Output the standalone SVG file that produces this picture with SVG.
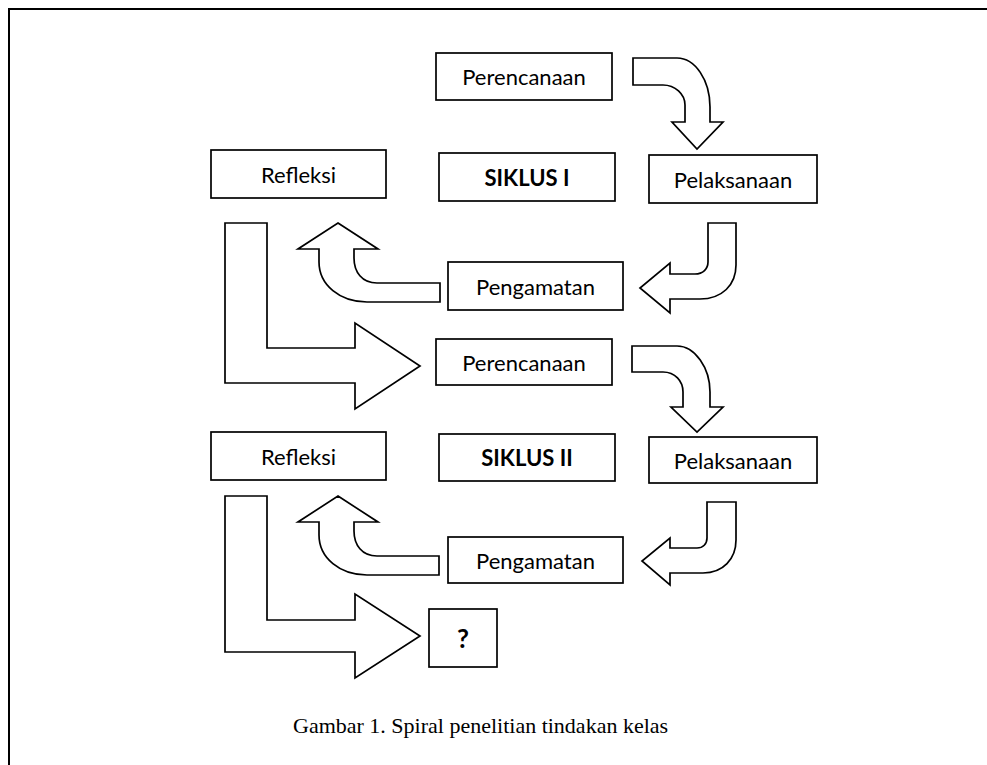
<svg xmlns="http://www.w3.org/2000/svg" width="987" height="765" viewBox="0 0 987 765">
<style>
.box{fill:#fff;stroke:#000;stroke-width:1.7}
.arr{fill:#fff;stroke:#000;stroke-width:1.7;stroke-linejoin:miter}
.lbl{font-family:Lato,"Open Sans","Liberation Sans",sans-serif;font-size:22px;fill:#000;text-anchor:middle;dominant-baseline:central}
.b{font-weight:bold}
.cap{font-family:"Liberation Serif","Times New Roman",serif;font-size:22px;fill:#000}
</style>
<rect width="987" height="765" fill="#fff"/>
<path d="M9,770 V9 H990" fill="none" stroke="#000" stroke-width="2"/>
<g id="connectors">
<path class="arr" d="M633,58 H677 C695,58 710,80 710,107 V122 H723 L697,149 L672,122 H685 V105 C685,94 675,85 663,85 H633 Z"/>
<path class="arr" d="M708,223 H736 V265 C736,285 722,299 700,299 H670 V313 L640,288 L670,263 V274 H695 C703,274 708,269 708,262 Z"/>
<path class="arr" d="M338,223 L378,249 H354 V258 C354,272 362,283 377,283 H440 V302 H367 C340,302 319,285 319,262 V249 H298 Z"/>
<path class="arr" d="M225,223 H267 V348 H355 V323 L420,366 L355,409 V383 H225 Z"/>
<path class="arr" d="M632,346 H677 C695,346 710,368 710,392 V407 H723 L697,432 L671,407 H683 V392 C683,381 675,372 663,372 H632 Z"/>
<path class="arr" d="M707,502 H736 V540 C736,559 723,573 703,573 H670 V585 L642,561 L670,538 V548 H697 C703,548 707,544 707,538 Z"/>
<path class="arr" d="M338,496 L378,522 H354 V531 C354,545 362,556 377,556 H439 V575 H367 C340,575 319,558 319,535 V522 H298 Z"/>
<path class="arr" d="M225,496 H267 V620 H355 V594 L420,636 L355,678 V652 H225 Z"/>
</g>
<g id="perencanaan1"><rect class="box" x="436" y="53" width="176" height="47"/><text class="lbl" x="524" y="76.5">Perencanaan</text></g>
<g id="siklus1"><rect class="box" x="439" y="153" width="176" height="48"/><text class="lbl b" x="527" y="177">SIKLUS I</text></g>
<g id="refleksi1"><rect class="box" x="211" y="150" width="175" height="48"/><text class="lbl" x="298.5" y="174">Refleksi</text></g>
<g id="pelaksanaan1"><rect class="box" x="649" y="155" width="168" height="48"/><text class="lbl" x="733" y="179">Pelaksanaan</text></g>
<g id="pengamatan1"><rect class="box" x="448" y="262" width="175" height="48"/><text class="lbl" x="535.5" y="286">Pengamatan</text></g>
<g id="perencanaan2"><rect class="box" x="436" y="339" width="176" height="46"/><text class="lbl" x="524" y="362">Perencanaan</text></g>
<g id="refleksi2"><rect class="box" x="211" y="432" width="175" height="48"/><text class="lbl" x="298.5" y="456">Refleksi</text></g>
<g id="siklus2"><rect class="box" x="439" y="434" width="176" height="47"/><text class="lbl b" x="527" y="457.5">SIKLUS II</text></g>
<g id="pelaksanaan2"><rect class="box" x="649" y="437" width="168" height="46"/><text class="lbl" x="733" y="460">Pelaksanaan</text></g>
<g id="pengamatan2"><rect class="box" x="448" y="537" width="175" height="46"/><text class="lbl" x="535.5" y="560">Pengamatan</text></g>
<g id="question"><rect class="box" x="429" y="609" width="68" height="58"/><text class="lbl b" x="463" y="638" style="font-size:26px">?</text></g>
<text class="cap" x="293" y="733">Gambar 1. Spiral penelitian tindakan kelas</text>
</svg>
